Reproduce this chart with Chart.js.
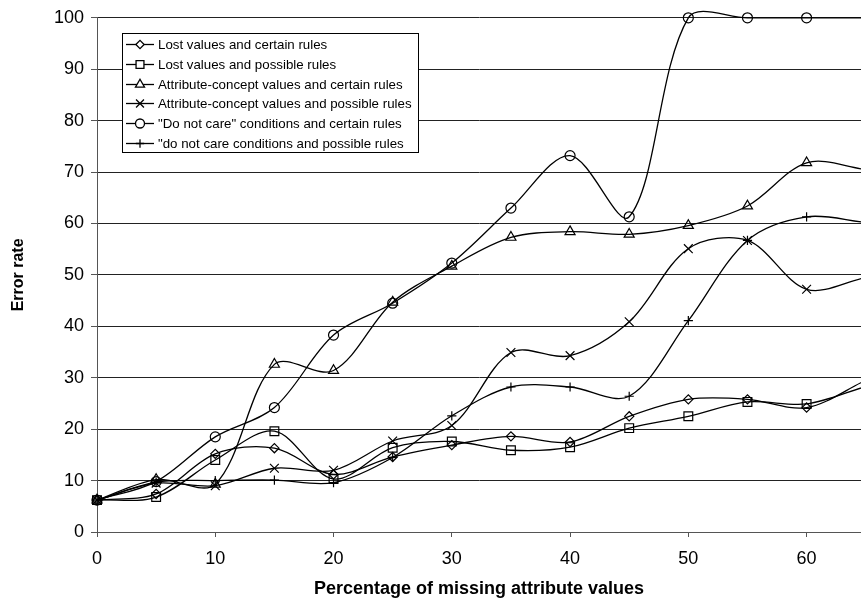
<!DOCTYPE html>
<html>
<head>
<meta charset="utf-8">
<script src="https://cdn.jsdelivr.net/npm/chart.js@4/dist/chart.umd.min.js"></script>
<style>
  body { margin: 0; background: #fff; }
  #wrap { width: 861px; height: 602px; }
</style>
</head>
<body>
<div id="wrap"><canvas id="errChart" width="861" height="602"></canvas></div>
<script>
// percentage of missing attribute values (last one runs off the right edge)
const missing = [0, 5, 10, 15, 20, 25, 30, 35, 40, 45, 50, 55, 60, 65]

const lostCertain  = [6.2, 7.4, 15.2, 16.3, 11.2, 14.6, 16.9, 18.6, 17.5, 22.5, 25.8, 25.8, 24.2, 29.5]
const lostPossible = [6.2, 6.8, 14.0, 19.6, 10.3, 16.4, 17.6, 15.9, 16.5, 20.2, 22.5, 25.3, 24.9, 28.3]
const acCertain    = [6.2, 10.2, 9.3, 32.6, 31.4, 44.7, 51.7, 57.3, 58.4, 57.9, 59.6, 63.4, 71.8, 70.5]
const acPossible   = [6.2, 9.5, 9.0, 12.4, 12.0, 17.7, 20.7, 34.9, 34.3, 40.9, 55.1, 56.7, 47.2, 49.5]
const dncCertain   = [6.2, 9.8, 18.5, 24.2, 38.3, 44.5, 52.3, 63.0, 73.2, 61.3, 100, 100, 100, 100]
const dncPossible  = [6.2, 9.7, 10.0, 10.1, 9.6, 14.5, 22.6, 28.2, 28.2, 26.4, 41.1, 56.7, 61.3, 60.2]

const seriesNames = [
    'Lost values and certain rules',
    'Lost values and possible rules',
    'Attribute-concept values and certain rules',
    'Attribute-concept values and possible rules',
    '"Do not care" conditions and certain rules',
    '"do not care conditions and possible rules'
]
const yTicks = [0, 10, 20, 30, 40, 50, 60, 70, 80, 90, 100]
const xTicks = [0, 10, 20, 30, 40, 50, 60]

/*========================== Datasets =============================*/
const allSeries = [lostCertain, lostPossible, acCertain, acPossible, dncCertain, dncPossible]
const markers = [
    { style: 'rectRot', r: 4.6 },
    { style: 'rect', r: 6.2 },
    { style: 'triangle', r: 5.8 },
    { style: 'crossRot', r: 6.2 },
    { style: 'circle', r: 5 },
    { style: 'cross', r: 4.6 }
]

function makeSet(i) {
    const vals = allSeries[i]
    return {
        label: seriesNames[i],
        data: vals.map((v, k) => ({ x: missing[k], y: v })),
        borderColor: '#000',
        borderWidth: 1.3,
        backgroundColor: 'rgba(0,0,0,0)',
        pointStyle: markers[i].style,
        pointRadius: vals.map((v, k) => missing[k] > 60 ? 0 : markers[i].r),
        pointBorderColor: '#000',
        pointBorderWidth: 1.2,
        pointBackgroundColor: 'rgba(0,0,0,0)',
        tension: 0.33,
        capBezierPoints: false,
        clip: false
    }
}

/*========================== Legend box =============================*/
const boxLegend = {
    id: 'boxLegend',
    afterDraw(chart) {
        const ctx = chart.ctx
        const bx = 122, by = 33, bw = 296, bh = 119
        ctx.save()
        ctx.fillStyle = '#fff'
        ctx.fillRect(bx, by, bw, bh)
        ctx.strokeStyle = '#000'
        ctx.lineWidth = 1
        ctx.strokeRect(bx + 0.5, by + 0.5, bw, bh)
        ctx.font = '13.3px "Liberation Sans", Arial, sans-serif'
        ctx.textBaseline = 'middle'
        chart.data.datasets.forEach((ds, i) => {
            const y = Math.round(44 + i * 19.8) + 0.5
            ctx.strokeStyle = '#000'
            ctx.lineWidth = 1.3
            ctx.beginPath()
            ctx.moveTo(126, y)
            ctx.lineTo(154, y)
            ctx.stroke()
            ctx.fillStyle = '#fff'
            Chart.helpers.drawPoint(ctx, {
                pointStyle: markers[i].style,
                radius: markers[i].r * 0.9,
                borderWidth: 1.2,
                rotation: 0
            }, 140, y)
            ctx.fillStyle = '#000'
            ctx.fillText(ds.label, 158, y + 1)
        })
        ctx.restore()
    }
}

/*========================== Chart =============================*/
const tickFont = { family: '"Liberation Sans", Arial, sans-serif', size: 18 }

const errChart = new Chart(document.getElementById('errChart'), {
    type: 'line',
    data: { datasets: allSeries.map((s, i) => makeSet(i)) },
    options: {
        responsive: false,
        animation: false,
        layout: { autoPadding: false, padding: { top: 6, left: 0, right: 0, bottom: 0 } },
        plugins: { legend: { display: false }, tooltip: { enabled: false } },
        scales: {
            x: {
                type: 'linear',
                min: 0,
                max: 64.6,
                afterBuildTicks(scale) {
                    scale.ticks = xTicks.map(v => ({ value: v }))
                },
                afterFit(scale) {
                    scale.height = 70
                    scale.paddingRight = 0
                    scale.paddingLeft = 0
                },
                ticks: { font: tickFont, color: '#000', padding: 11, maxRotation: 0 },
                grid: { drawOnChartArea: false, drawTicks: true, tickLength: 5, color: '#555' },
                border: { display: true, color: '#555', width: 1 },
                title: {
                    display: true,
                    text: 'Percentage of missing attribute values',
                    font: { family: '"Liberation Sans", Arial, sans-serif', size: 18, weight: 'bold' },
                    color: '#000',
                    padding: { top: 0, bottom: 2 }
                }
            },
            y: {
                min: 0,
                max: 100,
                afterBuildTicks(scale) {
                    scale.ticks = yTicks.map(v => ({ value: v }))
                },
                afterFit(scale) { scale.width = 97 },
                ticks: { font: tickFont, color: '#000', padding: 7 },
                grid: { color: '#222', lineWidth: 1, tickLength: 6, tickColor: '#555' },
                border: { display: true, color: '#555', width: 1 },
                title: {
                    display: true,
                    text: 'Error rate',
                    font: { family: '"Liberation Sans", Arial, sans-serif', size: 16, weight: 'bold' },
                    color: '#000',
                    padding: { top: 9, bottom: 0 }
                }
            }
        }
    },
    plugins: [boxLegend]
})
</script>
</body>
</html>
